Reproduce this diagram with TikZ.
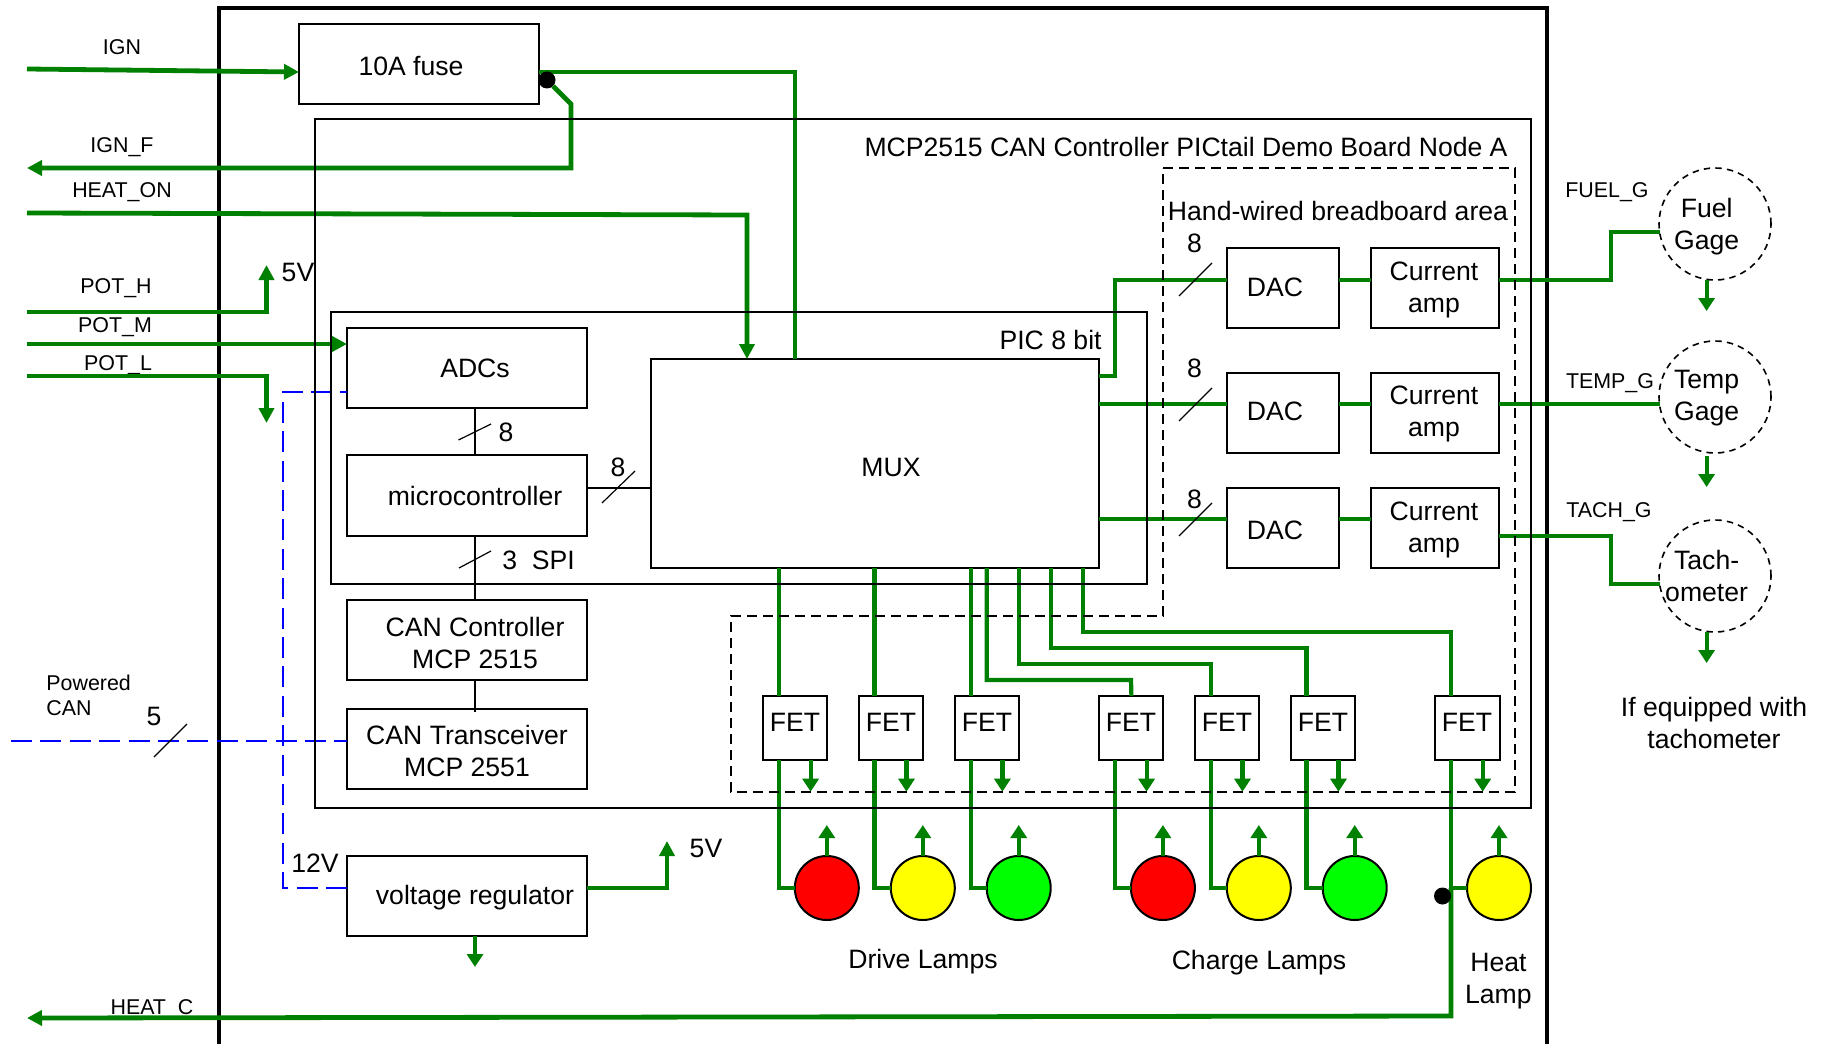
\documentclass[tikz,border=0pt]{standalone}
\usepackage{fontspec}
\setmainfont{Liberation Sans}
\usetikzlibrary{arrows.meta,calc}
\definecolor{wire}{HTML}{008000}
\definecolor{can}{HTML}{0000FF}
\definecolor{lred}{HTML}{FF0000}
\definecolor{lyel}{HTML}{FFFF00}
\definecolor{lgrn}{HTML}{00FF00}
\tikzset{
  blockbox/.style={draw=black,line width=1pt,fill=white,inner sep=0pt,outer sep=0pt},
  frameline/.style={draw=black,line width=1pt},
  outerframe/.style={draw=black,line width=2.3pt},
  bigtext/.style={font=\fontsize{13.3}{16}\selectfont,align=center,inner sep=0pt},
  smalltext/.style={font=\fontsize{10.7}{12.5}\selectfont,align=center,inner sep=0pt},
  wireline/.style={draw=wire,line width=2.4pt},
  thinwire/.style={draw=wire,line width=2.1pt},
  wirearrow/.style={wireline,-{Triangle[length=7.5pt,width=7.5pt]}},
  minorarrow/.style={thinwire,-{Triangle[length=6.5pt,width=8pt]}},
  canline/.style={draw=can,line width=1.35pt,dash pattern=on 10.5pt off 4.2pt},
  areadash/.style={draw=black,line width=1.2pt,dash pattern=on 5pt off 3pt},
  slashmark/.style={draw=black,line width=0.6pt},
  link/.style={draw=black,line width=0.8pt},
  lamp/.style={circle,draw=black,line width=1pt,minimum size=32pt,inner sep=0pt,outer sep=0pt},
  gauge/.style={circle,draw=black,line width=0.8pt,dash pattern=on 3.2pt off 2.6pt,minimum size=56pt,inner sep=0pt,outer sep=0pt,fill=white},
  joint/.style={circle,fill=black,minimum size=8.5pt,inner sep=0pt,outer sep=0pt}
}
\newcommand{\bx}[8]{%
  \pgfmathsetmacro\bxw{(#4-#2)*0.5}\pgfmathsetmacro\bxh{(#5-#3)*0.5}%
  \node[blockbox,minimum width=\bxw pt,minimum height=\bxh pt] (#1) at ({(#2+#4)/2},{(#3+#5)/2}) {};
  \node[bigtext] (#1-t) at (#6,#7) {#8};
}
\begin{document}
\begin{tikzpicture}[x=0.5pt,y=-0.5pt]
\useasboundingbox (0,0) rectangle (1830,1043.5);
% small signal labels (wires pass over them)
\node[smalltext] (lIGN) at (122,47) {IGN};
\node[smalltext] (lIGNF) at (122,147) {IGN\_F};
\node[smalltext] (lHEATON) at (122,192) {HEAT\_ON};
\node[smalltext] (lPOTH) at (116,288) {POT\_H};
\node[smalltext] (lPOTM) at (115,327) {POT\_M};
\node[smalltext] (lPOTL) at (118,365) {POT\_L};
\node[smalltext] (lHEATC) at (152,1009) {HEAT\_C};
\node[smalltext,align=left,anchor=west] (lPCAN) at (46,695.5) {Powered\\CAN};
\node[smalltext] (lFUEL) at (1607,192) {FUEL\_G};
\node[smalltext] (lTEMP) at (1610,383) {TEMP\_G};
\node[smalltext] (lTACH) at (1609,512) {TACH\_G};
% outer frame
\coordinate (ofa) at (219,1045); \coordinate (ofb) at (219,8);
\coordinate (ofc) at (1547,8); \coordinate (ofd) at (1547,1045);
\draw[outerframe] (ofa) -- (ofb) -- (ofc) -- (ofd);
% free ends
\coordinate (inIGN) at (27,69);
\coordinate (outIGNF) at (27,168);
\coordinate (inHEAT) at (27,213);
\coordinate (inPOTH) at (27,312);
\coordinate (inPOTM) at (27,344);
\coordinate (inPOTL) at (27,376);
\coordinate (outHEATC) at (27,1018);
\coordinate (upPOTH) at (266.5,265);
\coordinate (dnPOTL) at (266.5,423);
\coordinate (inCAN) at (11,741);
\coordinate (up5V) at (667,841);
\coordinate (dnReg) at (475,967);
% blocks
\bx{mux}{651}{359}{1099}{568}{891}{467}{MUX}
\bx{fuse}{299}{24}{539}{104}{411}{66}{10A fuse}
\bx{adc}{347}{328}{587}{408}{475}{368}{ADCs}
\bx{mcu}{347}{455}{587}{536}{475}{496}{microcontroller}
\bx{cctl}{347}{600}{587}{680}{475}{642.5}{CAN Controller\\MCP 2515}
\bx{ctrx}{347}{709}{587}{789}{467}{751}{CAN Transceiver\\MCP 2551}
\bx{vreg}{347}{856}{587}{936}{475}{897.5}{voltage regulator}
\bx{dac1}{1227}{248}{1339}{328}{1275}{287}{DAC}
\bx{dac2}{1227}{373}{1339}{453}{1275}{411.5}{DAC}
\bx{dac3}{1227}{488}{1339}{568}{1275}{530}{DAC}
\bx{amp1}{1370.5}{248}{1499}{328}{1434}{290}{Current\\amp}
\bx{amp2}{1370.5}{373}{1499}{453}{1434}{414}{Current\\amp}
\bx{amp3}{1370.5}{488}{1499}{568}{1434}{530}{Current\\amp}
\bx{fet1}{763.3}{696}{827.4}{760}{795}{722}{FET}
\bx{fet2}{859.3}{696}{923.3}{760}{891}{722}{FET}
\bx{fet3}{955.2}{696}{1019.2}{760}{987}{722}{FET}
\bx{fet4}{1099.4}{696}{1163.4}{760}{1131}{722}{FET}
\bx{fet5}{1195.3}{696}{1259.3}{760}{1227}{722}{FET}
\bx{fet6}{1291.3}{696}{1355.3}{760}{1323}{722}{FET}
\bx{fet7}{1435.4}{696}{1499.5}{760}{1467}{722}{FET}
% gauges
\node[gauge] (fuel) at (1715,224) {};
\node[gauge] (temp) at (1715,397) {};
\node[gauge] (tach) at (1715,576) {};
% lamps
\node[lamp,fill=lred] (lamp1) at (826.8,888) {};
\node[lamp,fill=lyel] (lamp2) at (922.8,888) {};
\node[lamp,fill=lgrn] (lamp3) at (1018.7,888) {};
\node[lamp,fill=lred] (lamp4) at (1162.9,888) {};
\node[lamp,fill=lyel] (lamp5) at (1258.8,888) {};
\node[lamp,fill=lgrn] (lamp6) at (1354.7,888) {};
\node[lamp,fill=lyel] (lamp7) at (1499,888) {};
% blue CAN power
\draw[canline] (vreg.west |- 0,888) -- (283,888) -- (283,392) -- (adc.west |- 0,392);
\draw[canline] (inCAN) -- (ctrx.west |- inCAN);
% black links
\draw[link] (475,0 |- adc.south) -- (475,0 |- mcu.north);
\draw[link] (475,0 |- mcu.south) -- (475,0 |- cctl.north);
\draw[link] (475,0 |- cctl.south) -- (475,712);
\draw[link] (mcu.east |- 0,488) -- (mux.west |- 0,488);
% green wires
\draw[wirearrow] (inIGN) -- (fuse.west |- 0,72);
\draw[wireline] (fuse.east |- 0,72) -- (795,72) -- (795,0 |- mux.north);
\node[joint] (fj) at (547,80) {};
\draw[wirearrow] (fj) -- (571,104) -- (571,168) -- (outIGNF);
\draw[wirearrow] (inHEAT) -- (747,215) -- (747,0 |- mux.north);
\draw[wirearrow] (inPOTH) -- (266.5,312) -- (upPOTH);
\draw[wirearrow] (inPOTM) -- (adc.west |- inPOTM);
\draw[wirearrow] (inPOTL) -- (266.5,376) -- (dnPOTL);
\draw[wirearrow] (vreg.east |- 0,888) -- (667,888) -- (up5V);
\draw[minorarrow] (475,0 |- vreg.south) -- (dnReg);
% DAC rows
\draw[wireline] (mux.east |- 0,376) -- (1115,376) -- (1115,280) -- (dac1.west |- 0,280);
\draw[wireline] (mux.east |- 0,404) -- (dac2.west |- 0,404);
\draw[wireline] (mux.east |- 0,519) -- (dac3.west |- 0,519);
\draw[wireline] (dac1.east |- 0,280) -- (amp1.west |- 0,280);
\draw[wireline] (dac2.east |- 0,404) -- (amp2.west |- 0,404);
\draw[wireline] (dac3.east |- 0,519) -- (amp3.west |- 0,519);
\draw[wireline] (amp1.east |- 0,280) -- (1611,280) -- (1611,232) -- (1660,232);
\draw[wireline] (amp2.east |- 0,404) -- (1660,404);
\draw[wireline] (amp3.east |- 0,536) -- (1611,536) -- (1611,584) -- (1660,584);
% gauge grounds
\coordinate (g1) at (1706.6,311); \coordinate (g2) at (1706.6,487); \coordinate (g3) at (1706.6,663);
\draw[minorarrow] (1706.6,280) -- (g1);
\draw[minorarrow] (1706.6,456) -- (g2);
\draw[minorarrow] (1706.6,632) -- (g3);
% MUX to FETs
\draw[thinwire] (778.6,0 |- mux.south) -- (778.6,0 |- fet1.north);
\draw[thinwire] (874.5,0 |- mux.south) -- (874.5,0 |- fet2.north);
\draw[thinwire] (971,0 |- mux.south) -- (971,0 |- fet3.north);
\draw[thinwire] (986.7,0 |- mux.south) -- (986.7,680) -- (1131,680) -- (fet4.north);
\draw[thinwire] (1018.7,0 |- mux.south) -- (1018.7,664) -- (1210.6,664) -- (1210.6,0 |- fet5.north);
\draw[thinwire] (1050.7,0 |- mux.south) -- (1050.7,648) -- (1306.5,648) -- (1306.5,0 |- fet6.north);
\draw[thinwire] (1083,0 |- mux.south) -- (1083,632) -- (1451,632) -- (1451,0 |- fet7.north);
% FETs to lamps
\draw[thinwire] (778.6,0 |- fet1.south) -- (778.6,888) -- (lamp1.west);
\draw[thinwire] (874.5,0 |- fet2.south) -- (874.5,888) -- (lamp2.west);
\draw[thinwire] (971,0 |- fet3.south) -- (971,888) -- (lamp3.west);
\draw[thinwire] (1114.6,0 |- fet4.south) -- (1114.6,888) -- (lamp4.west);
\draw[thinwire] (1210.6,0 |- fet5.south) -- (1210.6,888) -- (lamp5.west);
\draw[thinwire] (1306.5,0 |- fet6.south) -- (1306.5,888) -- (lamp6.west);
\draw[thinwire] (1451,0 |- fet7.south) -- (1451,888) -- (lamp7.west);
\draw[wirearrow] (1451,888) -- (1451,1016) -- (outHEATC);
\node[joint] (hj) at (1442.5,896) {};
% FET grounds
\foreach \n/\gx in {1/810.6,2/906.5,3/1002.4,4/1146.6,5/1242.5,6/1338.5,7/1482.7}{
  \coordinate (fg\n) at (\gx,791.7);
  \draw[minorarrow] (\gx,0 |- fet\n.south) -- (fg\n);
}
% lamp supplies
\foreach \n in {1,...,7}{
  \coordinate (ls\n) at ($(lamp\n.north)+(0,-31)$);
  \draw[minorarrow] (lamp\n.north) -- (ls\n);
}
% frames
\coordinate (bd1) at (315,119.5); \coordinate (bd2) at (1531,807.5);
\draw[frameline] (bd1) rectangle (bd2);
\coordinate (pic1) at (331,312); \coordinate (pic2) at (1147,583.5);
\draw[frameline] (pic1) -- (pic1 -| pic2) -- (pic2) -- (pic1 |- pic2) -- cycle;
\coordinate (ha) at (1163,168); \coordinate (hb) at (1515,168); \coordinate (hc) at (1515,792);
\coordinate (hd) at (731,792); \coordinate (he) at (731,616); \coordinate (hf) at (1163,616);
\draw[areadash] (ha) -- (hb) -- (hc) -- (hd) -- (he) -- (hf) -- cycle;
% slash marks
\draw[slashmark] (458.5,440) -- (491,424);
\draw[slashmark] (459,568) -- (491,551);
\draw[slashmark] (602,503) -- (635,471);
\draw[slashmark] (154,757) -- (187,724);
\draw[slashmark] (1179,296) -- (1212,263);
\draw[slashmark] (1179,421) -- (1212,388);
\draw[slashmark] (1179,536) -- (1212,503);
% text
\node[bigtext] (t5va) at (298,272) {5V};
\node[bigtext] (t5vb) at (706,848) {5V};
\node[bigtext] (t12v) at (315,863) {12V};
\node[bigtext] (n8a) at (506,432) {8};
\node[bigtext] (n8b) at (618,467) {8};
\node[bigtext] (n3) at (538.5,560) {3\ \ SPI};
\node[bigtext] (n5) at (154,716) {5};
\node[bigtext] (n81) at (1194.5,243) {8};
\node[bigtext] (n82) at (1194.5,368) {8};
\node[bigtext] (n83) at (1194.5,499) {8};
\node[bigtext,anchor=east] (tpic) at (1102,340) {PIC 8 bit};
\node[bigtext,anchor=east] (tboard) at (1508,147) {MCP2515 CAN Controller PICtail Demo Board Node A};
\node[bigtext] (thand) at (1338,211) {Hand-wired breadboard area};
\node[bigtext] (tfuel) at (1706.6,226.5) {Fuel\\Gage};
\node[bigtext] (ttemp) at (1706.6,398) {Temp\\Gage};
\node[bigtext] (ttach) at (1706.6,576) {Tach-\\ometer};
\node[bigtext] (tequip) at (1714,722.5) {If equipped with\\tachometer};
\node[bigtext] (tdrive) at (923,962) {Drive Lamps};
\node[bigtext] (tcharge) at (1259,963) {Charge Lamps};
\node[bigtext] (theat) at (1498.4,981) {Heat\\Lamp};
\end{tikzpicture}
\end{document}
